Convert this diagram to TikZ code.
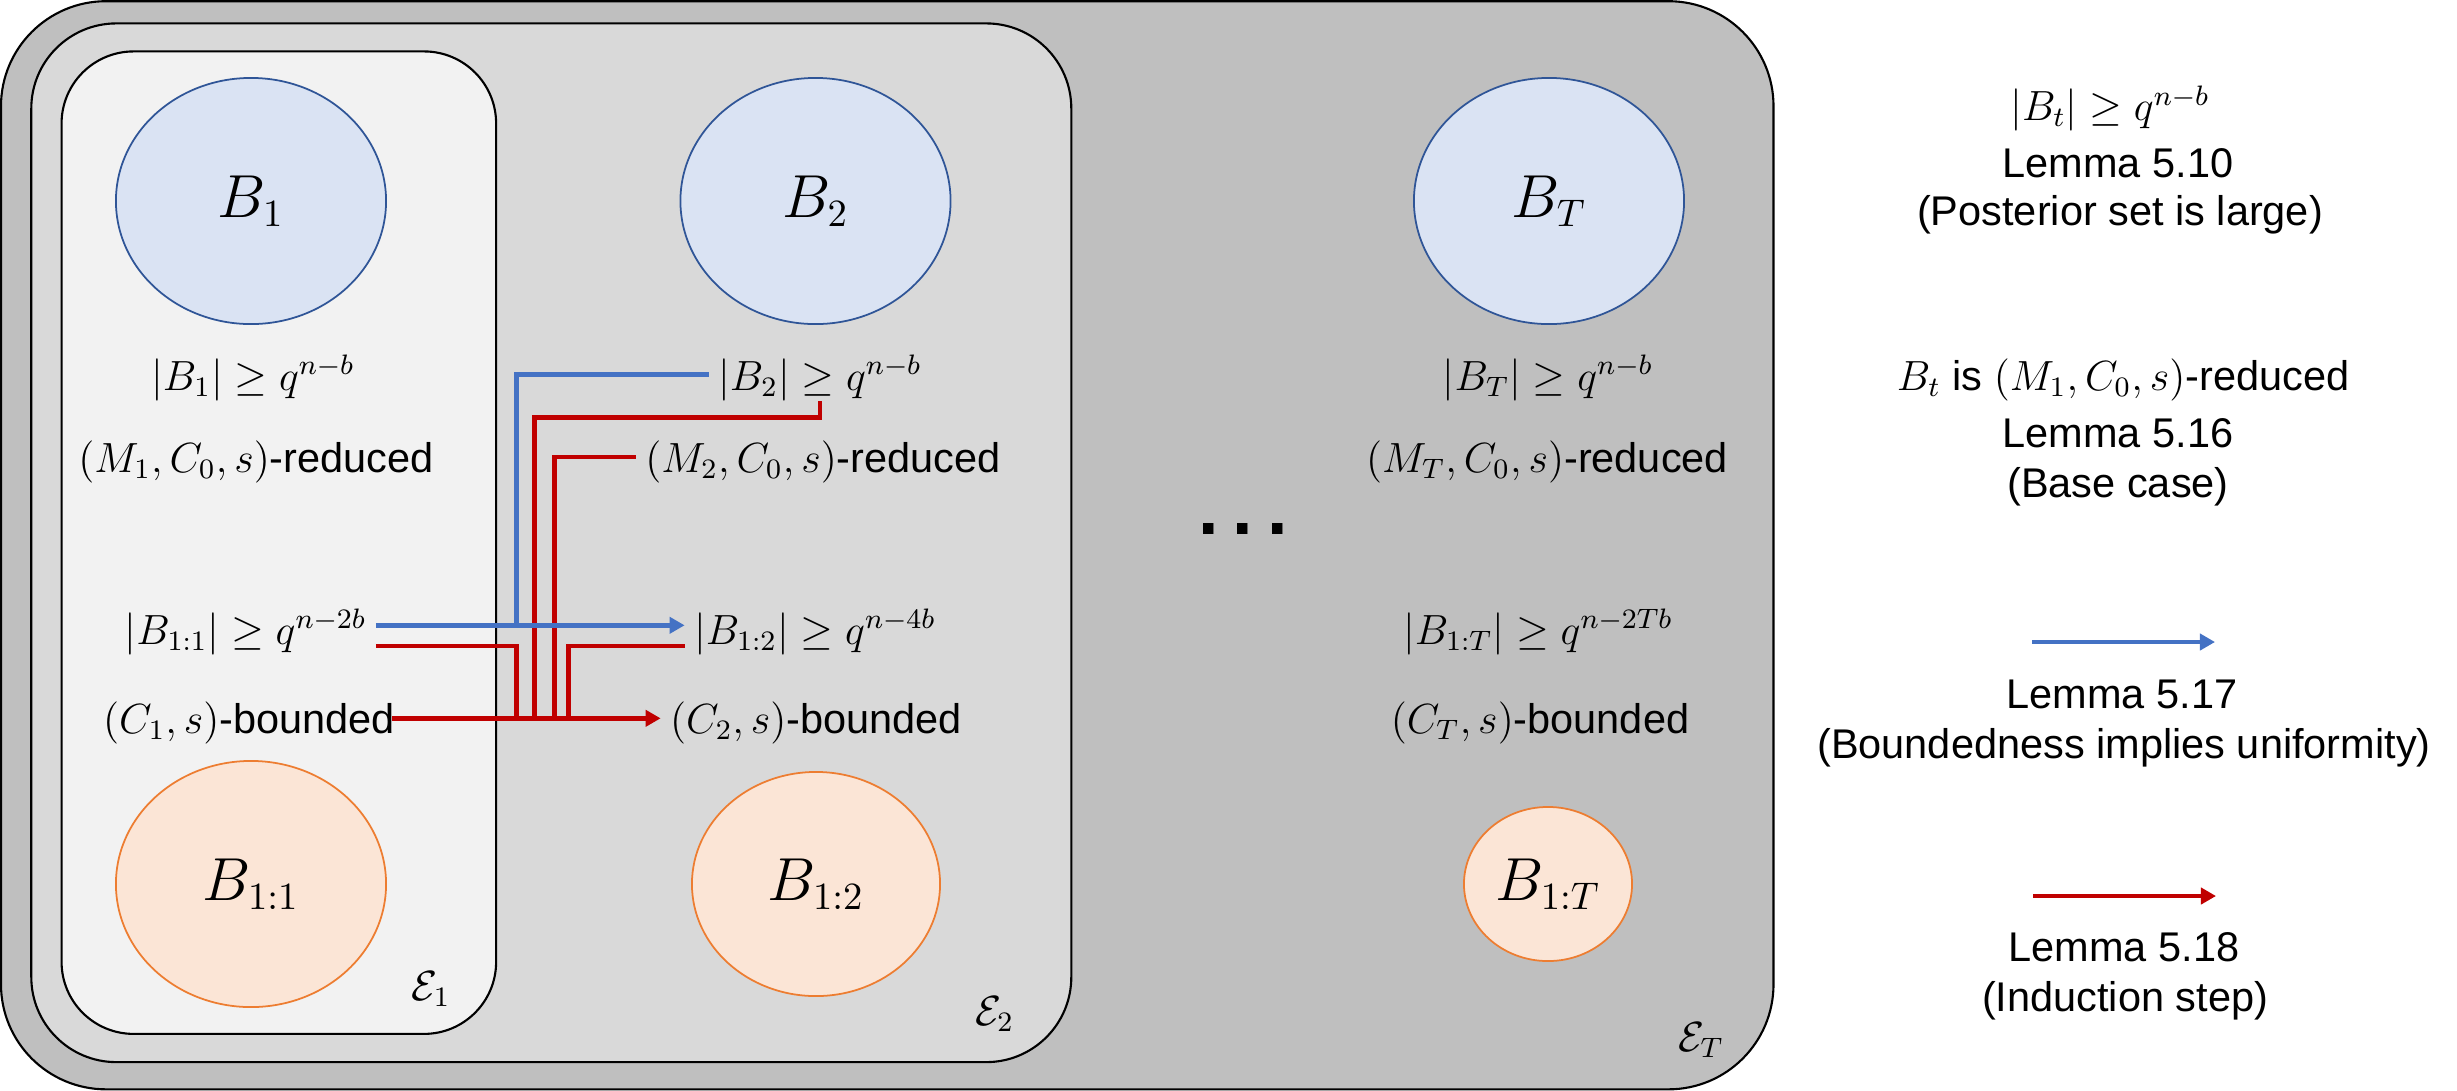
\documentclass[tikz,border=0pt]{standalone}
\usepackage[no-math]{fontspec}
\setmainfont{Liberation Sans}
\usetikzlibrary{shapes.geometric,arrows.meta}
\definecolor{bgT}{HTML}{BFBFBF}
\definecolor{bgTwo}{HTML}{D9D9D9}
\definecolor{bgOne}{HTML}{F2F2F2}
\definecolor{elblue}{HTML}{2F5597}
\definecolor{elbluefill}{HTML}{DAE3F3}
\definecolor{elor}{HTML}{ED7D31}
\definecolor{elorfill}{HTML}{FBE5D6}
\definecolor{conblue}{HTML}{4472C4}
\definecolor{conred}{HTML}{C00000}
\begin{document}
\begin{tikzpicture}[x=0.01cm,y=-0.01cm,
  cont/.style={draw=black,line width=0.6pt,inner sep=0pt},
  txt/.style={anchor=base,inner xsep=2.5pt,inner ysep=0pt,font=\fontsize{11.8}{14}\selectfont},
  topell/.style={ellipse,draw=elblue,fill=elbluefill,line width=0.5pt,inner sep=0pt,font=\fontsize{16}{19}\selectfont},
  botell/.style={ellipse,draw=elor,fill=elorfill,line width=0.5pt,inner sep=0pt,font=\fontsize{16}{19}\selectfont},
  blueline/.style={draw=conblue,line width=1.3pt},
  redline/.style={draw=conred,line width=1.3pt},
  bluearr/.style={blueline,-{Triangle[length=4.3pt,width=4.6pt]}},
  redarr/.style={redline,-{Triangle[length=4.3pt,width=4.6pt]}}]
\useasboundingbox (0,0) rectangle (2457,1090);
% containers
\node[cont,fill=bgT,rounded corners=1.05cm,minimum width=17.715cm,minimum height=10.875cm] (ET) at (887.25,545.25) {};
\node[cont,fill=bgTwo,rounded corners=0.85cm,minimum width=10.394cm,minimum height=10.381cm] (E2) at (551.3,542.75) {};
\node[cont,fill=bgOne,rounded corners=0.72cm,minimum width=4.343cm,minimum height=9.819cm] (E1) at (278.85,542.65) {};
\node[txt] (lE1) at (431,1000) {$\mathcal{E}_1$};
\node[txt] (lE2) at (994.5,1025) {$\mathcal{E}_2$};
\node[txt] (lET) at (1701,1051) {$\mathcal{E}_T$};
% ellipses
\node[topell,minimum width=2.70cm,minimum height=2.46cm] (B1) at (251,201) {$B_1$};
\node[topell,minimum width=2.70cm,minimum height=2.46cm] (B2) at (815.5,201) {$B_2$};
\node[topell,minimum width=2.70cm,minimum height=2.46cm] (BT) at (1549,201) {$B_T$};
\node[botell,minimum width=2.70cm,minimum height=2.46cm] (B11) at (251,884) {$B_{1:1}$};
\node[botell,minimum width=2.48cm,minimum height=2.24cm] (B12) at (816,884) {$B_{1:2}$};
\node[botell,minimum width=1.68cm,minimum height=1.54cm] (B1T) at (1548,884) {$B_{1:T}$};
% texts
\node[txt] (t1a) at (253,390) {$|B_1|\geq q^{n-b}$};
\node[txt] (t1b) at (256,472.6) {$(M_1,C_0,s)$-reduced};
\node[txt] (t2a) at (820,390) {$|B_2|\geq q^{n-b}$};
\node[txt] (t2b) at (823,472.6) {$(M_2,C_0,s)$-reduced};
\node[txt] (tTa) at (1548,390) {$|B_T|\geq q^{n-b}$};
\node[txt] (tTb) at (1547,472.6) {$(M_T,C_0,s)$-reduced};
\node[txt] (t11) at (245.5,644) {$|B_{1:1}|\geq q^{n-2b}$};
\node[txt] (t12) at (815,644) {$|B_{1:2}|\geq q^{n-4b}$};
\node[txt] (t1T) at (1538,644) {$|B_{1:T}|\geq q^{n-2Tb}$};
\node[txt] (c1) at (249,733) {$(C_1,s)$-bounded};
\node[txt] (c2) at (816,733) {$(C_2,s)$-bounded};
\node[txt] (cT) at (1540,733) {$(C_T,s)$-bounded};
\node[anchor=base,inner sep=0pt,font=\bfseries\fontsize{21}{25}\selectfont] (dots) at (1243,534) {.\hspace{4pt}.\hspace{4pt}.};
% right column
\node[txt] (r1) at (2110,120.5) {$|B_t|\geq q^{n-b}$};
\node[txt] (r2) at (2118,177) {Lemma 5.10};
\node[txt] (r3) at (2120,225.8) {(Posterior set is large)};
\node[txt] (r4) at (2123,390) {$B_t$ is $(M_1,C_0,s)$-reduced};
\node[txt] (r5) at (2118,447) {Lemma 5.16};
\node[txt] (r6) at (2118,497) {(Base case)};
\node[txt] (r7) at (2122,708) {Lemma 5.17};
\node[txt] (r8) at (2124,758) {(Boundedness implies uniformity)};
\node[txt] (r9) at (2124,961) {Lemma 5.18};
\node[txt] (r10) at (2125,1011) {(Induction step)};
% bus coordinates
\coordinate (busA) at (516.7,718.3);
\coordinate (busB) at (534.3,718.3);
\coordinate (busC) at (554.3,718.3);
\coordinate (busD) at (568.3,718.3);
\coordinate (busBlue) at (516.7,625.3);
\coordinate (kB) at (534.3,417.3);
% red connectors
\draw[redline] (t2a.south) |- (kB) -- (busB);
\draw[redline] (t2b.west |- 0,457) -| (busC);
\draw[redline] (t11.east |- 0,646) -| (busA);
\draw[redline] (t12.west |- 0,646) -| (busD);
\draw[redarr,shorten <=-3.5pt] (c1.east |- busA) -- (c2.west |- busA);
% blue connectors
\draw[blueline] (t2a.west |- 0,374.3) -| (busBlue);
\draw[bluearr] (t11.east |- busBlue) -- (t12.west |- busBlue);
% legend
\coordinate (lb1) at (2032,642);
\coordinate (lb2) at (2215,642);
\coordinate (lr1) at (2033,896);
\coordinate (lr2) at (2216,896);
\draw[bluearr] (lb1) -- (lb2);
\draw[redarr] (lr1) -- (lr2);
\end{tikzpicture}
\end{document}
